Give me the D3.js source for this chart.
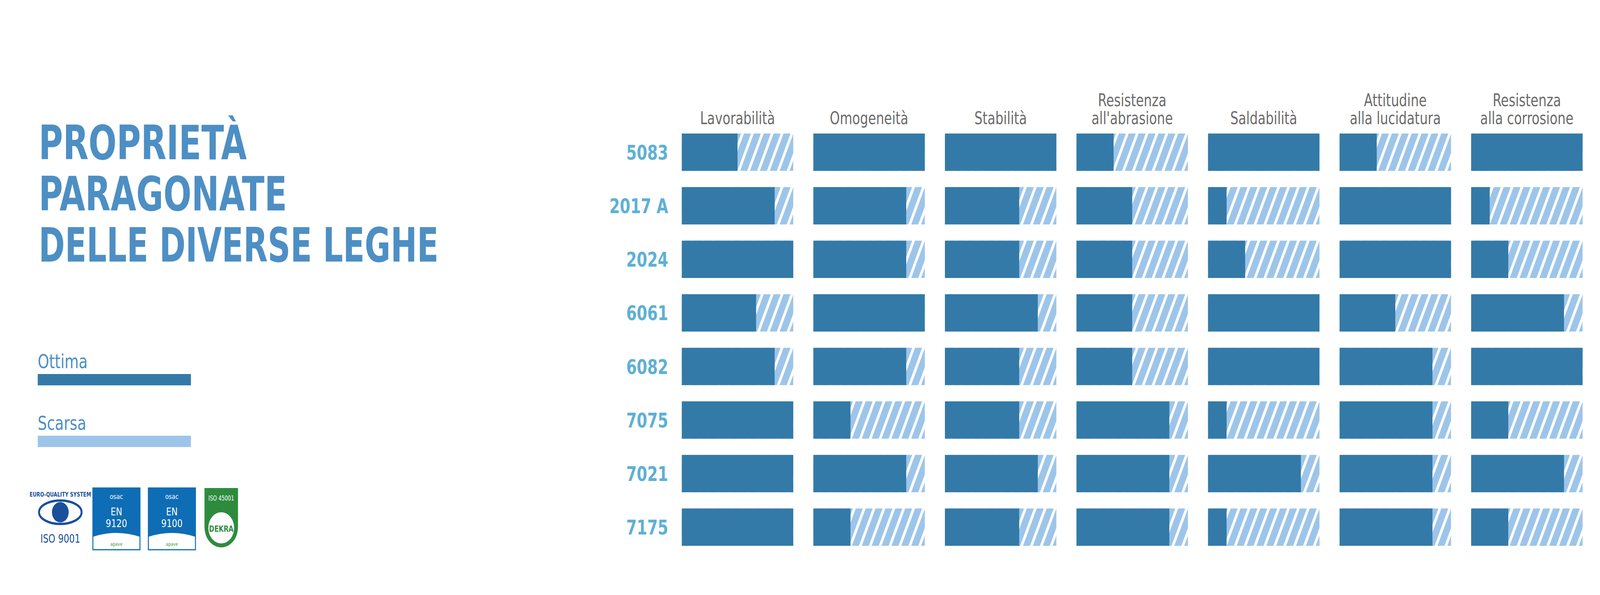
<!DOCTYPE html>
<html lang="it">
<head>
<meta charset="UTF-8">
<title>Proprietà paragonate delle diverse leghe</title>
<style>
  html, body { margin: 0; background: #fff; overflow: hidden; }
  #chart { display: block; width: 100vw; height: 100vh; }
  .cond { font-family: "DejaVu Sans Condensed", "DejaVu Sans", sans-serif; font-stretch: condensed; }
</style>
</head>
<body>
<svg id="chart"></svg>
<script src="https://cdn.jsdelivr.net/npm/d3@7/dist/d3.min.js"></script>
<script>
const W = 4961, H = 1524;

// data: scores in sixths (6 = ottima across the whole bar)
const alloys = ["5083", "2017 A", "2024", "6061", "6082", "7075", "7021", "7175"];
const properties = [
  ["Lavorabilità"], ["Omogeneità"], ["Stabilità"],
  ["Resistenza", "all'abrasione"], ["Saldabilità"],
  ["Attitudine", "alla lucidatura"], ["Resistenza", "alla corrosione"]
];
const lavorabilita = [3, 5, 6, 4, 5, 6, 6, 6];
const omogeneita   = [6, 5, 5, 6, 5, 2, 5, 2];
const stabilita    = [6, 4, 4, 5, 4, 4, 5, 4];
const abrasione    = [2, 3, 3, 3, 3, 5, 5, 5];
const saldabilita  = [6, 1, 2, 6, 6, 1, 5, 1];
const lucidatura   = [2, 6, 6, 3, 5, 5, 5, 5];
const corrosione   = [6, 1, 2, 5, 6, 2, 5, 2];
const series = [lavorabilita, omogeneita, stabilita, abrasione, saldabilita, lucidatura, corrosione];
const titleLines = ["PROPRIETÀ", "PARAGONATE", "DELLE DIVERSE LEGHE"];
const legend = ["Ottima", "Scarsa"];

const DARK = "#337aa8", LIGHT = "#9dc5e9", TITLE = "#4d8fc4";

const svg = d3.select("#chart").attr("viewBox", `0 0 ${W} ${H}`).attr("preserveAspectRatio", "none");

const defs = svg.append("defs");
const pat = defs.append("pattern").attr("id", "hatch")
  .attr("patternUnits", "userSpaceOnUse").attr("width", 28).attr("height", 28)
  .attr("patternTransform", "rotate(24)");
pat.append("rect").attr("width", 28).attr("height", 28).attr("fill", LIGHT);
pat.append("rect").attr("width", 8).attr("height", 28).attr("fill", "#fff");

// title
svg.append("g").selectAll("text").data(titleLines).join("text")
  .attr("class", "cond")
  .attr("x", 120).attr("y", (d, i) => 408 + i * 131)
  .attr("font-size", 122).attr("font-weight", "bold").attr("fill", TITLE)
  .attr("textLength", (d, i) => [645, 770, 1240][i]).attr("lengthAdjust", "spacingAndGlyphs")
  .text(d => d);

// legend
const lg = svg.append("g").selectAll("g").data(legend).join("g")
  .attr("transform", (d, i) => `translate(117,${943 + i * 158})`);
lg.append("text").attr("class", "cond").attr("font-size", 50).attr("fill", TITLE).text(d => d);
lg.append("rect").attr("y", 15).attr("width", 475).attr("height", 29)
  .attr("fill", (d, i) => i ? LIGHT : DARK);

// logos (simplified)
const logos = svg.append("g").attr("transform", "translate(117,1250)");
logos.append("text").attr("x", 70).attr("y", 22).attr("text-anchor", "middle").attr("class", "cond")
  .attr("font-size", 16).attr("font-weight", "bold").attr("fill", "#1a4f9c").text("EURO-QUALITY SYSTEM");
logos.append("ellipse").attr("cx", 70).attr("cy", 62).attr("rx", 66).attr("ry", 30)
  .attr("fill", "none").attr("stroke", "#1a4f9c").attr("stroke-width", 6);
logos.append("circle").attr("cx", 70).attr("cy", 62).attr("r", 26).attr("fill", "#1a4f9c");
logos.append("text").attr("x", 70).attr("y", 140).attr("text-anchor", "middle").attr("class", "cond")
  .attr("font-size", 30).attr("fill", "#1a4f9c").text("ISO 9001");
[["EN", "9120"], ["EN", "9100"]].forEach((t, i) => {
  const g = logos.append("g").attr("transform", `translate(${171 + i * 172},0)`);
  g.append("rect").attr("width", 146).attr("height", 158).attr("fill", "#fff").attr("stroke", "#0e6db5").attr("stroke-width", 3);
  g.append("path").attr("d", "M0,0H146V125Q73,105 0,125Z").attr("fill", "#0e6db5");
  g.append("text").attr("x", 73).attr("y", 28).attr("text-anchor", "middle").attr("fill", "#fff").attr("font-size", 18).attr("font-family", "DejaVu Sans").text("osac");
  g.append("text").attr("x", 73).attr("y", 70).attr("text-anchor", "middle").attr("fill", "#fff").attr("font-size", 26).attr("font-family", "DejaVu Sans").text(t[0]);
  g.append("text").attr("x", 73).attr("y", 100).attr("text-anchor", "middle").attr("fill", "#fff").attr("font-size", 26).attr("font-family", "DejaVu Sans").text(t[1]);
  g.append("text").attr("x", 73).attr("y", 148).attr("text-anchor", "middle").attr("fill", "#3a9a3a").attr("font-size", 12).attr("font-family", "DejaVu Sans").text("apave");
});
const dk = logos.append("g").attr("transform", "translate(517,0)");
dk.append("path").attr("d", "M0,0H104V100A52,52 0 0 1 0,100Z").attr("fill", "#2e8b3e");
dk.append("circle").attr("cx", 52).attr("cy", 102).attr("r", 40).attr("fill", "#fff");
dk.append("text").attr("x", 52).attr("y", 32).attr("text-anchor", "middle").attr("fill", "#fff").attr("font-size", 17).attr("class", "cond").text("ISO 45001");
dk.append("text").attr("x", 52).attr("y", 112).attr("text-anchor", "middle").attr("fill", "#2e8b3e").attr("font-size", 22).attr("font-weight", "bold").attr("class", "cond").text("DEKRA");

// grid of bars
const colX = d3.scaleBand().domain(d3.range(properties.length)).range([2114, 2114 + 399 * 7]).paddingInner(61 / 399).paddingOuter(0).align(0);
const rowY = d3.scaleBand().domain(alloys).range([342, 342 + 132 * 8]).paddingInner(40 / 132).align(0);
const len = d3.scaleLinear().domain([0, 6]).range([0, colX.bandwidth()]);

// column headers
const hdr = svg.append("g").selectAll("text").data(properties).join("text")
  .attr("class", "cond").attr("font-size", 44).attr("fill", "#6b6b6b").attr("text-anchor", "middle")
  .attr("x", (d, i) => colX(i) + colX.bandwidth() / 2);
hdr.selectAll("tspan").data(d => d.map((t, j) => ({ t, j, n: d.length }))).join("tspan")
  .attr("x", function () { return d3.select(this.parentNode).attr("x"); })
  .attr("y", d => 318 - (d.n - 1 - d.j) * 46)
  .text(d => d.t);

// row labels
svg.append("g").selectAll("text").data(alloys).join("text")
  .attr("class", "cond").attr("font-size", 52).attr("font-weight", "bold").attr("fill", "#5fb0d4")
  .attr("text-anchor", "end").attr("x", 2072)
  .attr("y", d => rowY(d) + rowY.bandwidth() / 2 + 19).text(d => d);

const cells = [];
series.forEach((vals, c) => vals.forEach((v, r) => cells.push({ c, r, v })));
const cell = svg.append("g").selectAll("g").data(cells).join("g")
  .attr("transform", d => `translate(${colX(d.c)},${rowY(alloys[d.r])})`);
cell.append("rect").attr("width", colX.bandwidth()).attr("height", rowY.bandwidth()).attr("fill", "url(#hatch)");
cell.append("rect").attr("width", d => len(d.v)).attr("height", rowY.bandwidth()).attr("fill", DARK);
</script>
</body>
</html>
